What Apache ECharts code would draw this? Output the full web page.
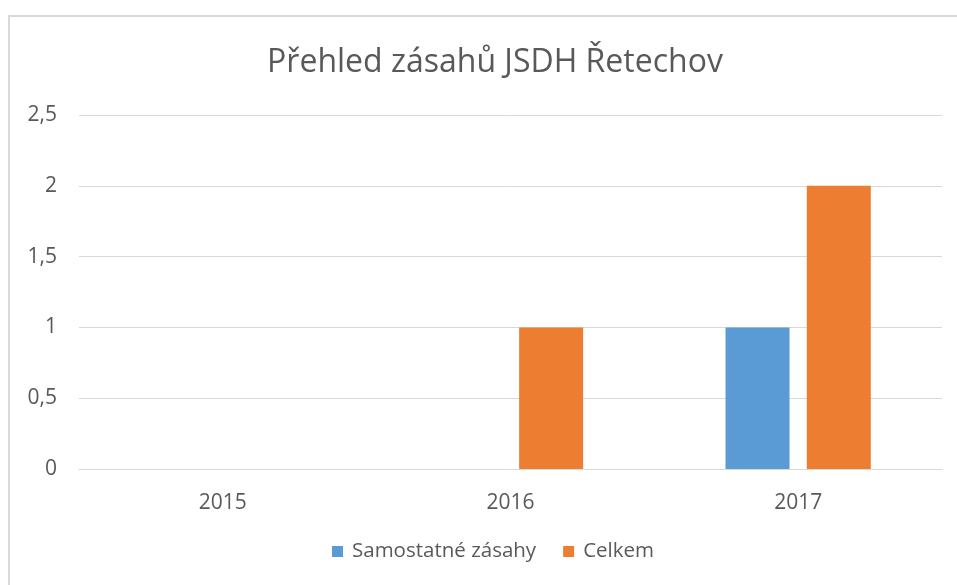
<!DOCTYPE html>
<html>
<head>
<meta charset="utf-8">
<script src="https://cdn.jsdelivr.net/npm/echarts@6/dist/echarts.min.js"></script>
<style>
  html, body { margin: 0; padding: 0; background: #fff; overflow: hidden; }
  #frame {
    position: absolute; left: 8px; top: 15px; width: 970px; height: 590px;
    border: 2px solid #d9d9d9; box-sizing: border-box;
  }
  #chart { position: absolute; left: 0; top: 0; width: 957px; height: 585px; }
</style>
</head>
<body>
<div id="frame"></div>
<div id="chart"></div>
<script>
// data
const years = ["2015", "2016", "2017"];
const samostatne = [0, 0, 1];
const celkem = [0, 1, 2];

const textColor = "#595959";
const font = "'Open Sans', 'Noto Sans', sans-serif";

const chart = echarts.init(document.getElementById("chart"), null, { renderer: "canvas" });

chart.setOption({
  animation: false,
  title: {
    text: "Přehled zásahů JSDH Řetechov",
    left: 490,
    textAlign: "center",
    top: 42,
    textStyle: { color: textColor, fontSize: 32, fontWeight: "normal", fontFamily: font }
  },
  grid: { left: 79, right: 15, top: 115, bottom: 116 },
  legend: {
    bottom: 18,
    left: 327,
    itemWidth: 11,
    itemHeight: 11,
    itemGap: 27,
    icon: "rect",
    textStyle: { color: textColor, fontSize: 20.5, fontFamily: font, padding: [0, 0, 0, 4] },
    data: ["Samostatné zásahy", "Celkem"]
  },
  xAxis: {
    type: "category",
    data: years,
    axisLine: { lineStyle: { color: "#d9d9d9" } },
    axisTick: { show: false },
    axisLabel: { color: textColor, fontSize: 21, margin: 24, fontFamily: font }
  },
  yAxis: {
    type: "value",
    min: 0,
    max: 2.5,
    interval: 0.5,
    axisLine: { show: false },
    axisTick: { show: false },
    splitLine: { lineStyle: { color: "#d9d9d9" } },
    axisLabel: {
      color: textColor, fontSize: 21, margin: 22, fontFamily: font,
      formatter: v => String(v).replace(".", ",")
    }
  },
  series: [
    {
      name: "Samostatné zásahy",
      type: "bar",
      data: samostatne,
      barWidth: 64,
      barGap: "27%",
      itemStyle: { color: "#5b9bd5" }
    },
    {
      name: "Celkem",
      type: "bar",
      data: celkem,
      barWidth: 64,
      barGap: "27%",
      itemStyle: { color: "#ed7d31" }
    }
  ]
});
</script>
</body>
</html>
